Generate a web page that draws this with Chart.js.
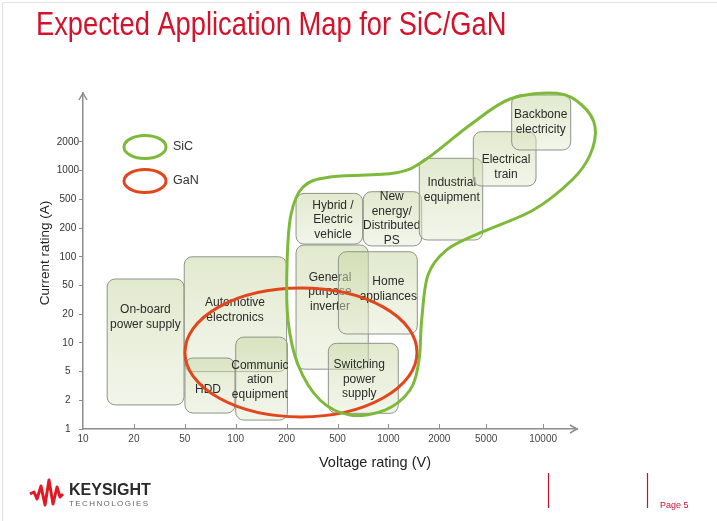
<!DOCTYPE html>
<html>
<head>
<meta charset="utf-8">
<script src="https://cdn.jsdelivr.net/npm/chart.js@4.4.1/dist/chart.umd.min.js"></script>
<style>
html, body { margin: 0; padding: 0; background: #fff; }
#wrap { position: relative; width: 717px; height: 521px; }
</style>
</head>
<body>
<div id="wrap"><canvas id="content" width="717" height="521"></canvas></div>
<script>
// axis ticks as printed on the slide (1-2-5 steps, evenly spaced; 5000/10000 sit a bit off)
var voltTicks = [10, 20, 50, 100, 200, 500, 1000, 2000, 5000, 10000];
var voltTickPos = [0, 1, 2, 3, 4, 5, 6, 7, 7.92, 9.04];
var currTicks = [1, 2, 5, 10, 20, 50, 100, 200, 500, 1000, 2000];
var currTickPos = [0, 1, 2, 3, 4, 5, 6, 7, 8, 9, 10];

// application areas: voltage range (V) and current range (A)
var apps = ["On-board\npower supply", "Automotive\nelectronics", "HDD", "Communic\nation\nequipment",
            "Hybrid /\nElectric\nvehicle", "New\nenergy/\nDistributed\nPS", "General\npurpose\ninverter",
            "Home\nappliances", "Switching\npower\nsupply", "Industrial\nequipment", "Electrical\ntrain",
            "Backbone\nelectricity"];
var voltLow  = [13.9, 49.5, 50.1, 100, 237, 710, 237, 506, 424, 1523, 3890, 6820];
var voltHigh = [49.3, 200, 99, 203, 704, 1573, 760, 1482, 1144, 4677, 9170, 13980];
var currLow  = [1.79, 5, 1.47, 1.24, 136, 130, 5.3, 12.4, 1.46, 150, 691, 1648];
var currHigh = [58.5, 100, 6.94, 11.5, 578, 602, 133, 113, 9.9, 1349, 2565, 6224];
var labelVolt = [24.6, 99, 68.6, 139, 461, 1046, 437, 999, 672, 2550, 6365, 9707];
var labelCurr = [18.7, 22.9, 2.78, 3.82, 259, 272, 40.6, 44.7, 3.87, 628, 1094, 3242];

// GaN region (ellipse bounds)
var ganVolt = [50.1, 1476];
var ganCurr = [1.34, 46.2];

// SiC region outline
var sicVolt = [11790, 15990, 18790, 17680, 14200, 8875, 4437, 2311, 1715, 1573, 1517, 1342, 955, 593,
               365, 246, 205, 201.5, 216, 269, 437, 1094, 1646, 3646, 6684];
var sicCurr = [6485, 4887, 2894, 1461, 799, 357, 178, 118, 64.4, 17.4, 6.62, 2.78, 1.58, 1.40,
               2.02, 5.86, 17.4, 82, 304, 675, 859, 946, 1295, 3014, 5649];

function toPos(v, ticks, pos) {
    var i = 0;
    while (i < ticks.length - 2 && v > ticks[i + 1]) i++;
    var t = Math.log(v / ticks[i]) / Math.log(ticks[i + 1] / ticks[i]);
    return pos[i] + t * (pos[i + 1] - pos[i]);
}

var axisColor = "#8c8c8c";

var slidePlugin = {
    id: "slide",
    beforeDraw: function (chart) {
        var ctx = chart.ctx;
        ctx.save();
        ctx.fillStyle = "#fff";
        ctx.fillRect(0, 0, chart.width, chart.height);
        ctx.restore();
    },
    afterDraw: function (chart) {
        var ctx = chart.ctx;
        var xs = chart.scales.x, ys = chart.scales.y;
        var area = chart.chartArea;
        function px(v) { return xs.getPixelForValue(toPos(v, voltTicks, voltTickPos)); }
        function py(a) { return ys.getPixelForValue(toPos(a, currTicks, currTickPos)); }

        ctx.save();

        // slide frame
        ctx.strokeStyle = "#e2e2e2";
        ctx.lineWidth = 1;
        ctx.beginPath();
        ctx.moveTo(2.5, chart.height); ctx.lineTo(2.5, 2.5); ctx.lineTo(chart.width, 2.5);
        ctx.stroke();

        // title
        ctx.save();
        ctx.translate(36, 35);
        ctx.scale(0.84, 1);
        ctx.fillStyle = "#d3122b";
        ctx.font = "32.5px 'Liberation Sans', Arial, sans-serif";
        ctx.textBaseline = "alphabetic";
        ctx.fillText("Expected Application Map for SiC/GaN", 0, 0);
        ctx.restore();

        // axis arrows and inner x ticks
        ctx.strokeStyle = axisColor;
        ctx.lineWidth = 1.5;
        ctx.beginPath();
        ctx.moveTo(area.left - 4, area.top + 7); ctx.lineTo(area.left, area.top); ctx.lineTo(area.left + 4, area.top + 7);
        ctx.moveTo(area.right - 7, area.bottom - 4); ctx.lineTo(area.right, area.bottom); ctx.lineTo(area.right - 7, area.bottom + 4);
        ctx.stroke();
        ctx.lineWidth = 1;
        ctx.beginPath();
        voltTickPos.slice(1).forEach(function (p) {
            var x = Math.round(xs.getPixelForValue(p)) + 0.5;
            ctx.moveTo(x, area.bottom); ctx.lineTo(x, area.bottom - 5);
        });
        ctx.stroke();

        // application boxes
        apps.forEach(function (name, i) {
            var x0 = px(voltLow[i]), x1 = px(voltHigh[i]);
            var y0 = py(currHigh[i]), y1 = py(currLow[i]);
            var g = ctx.createLinearGradient(0, y0, 0, y1);
            g.addColorStop(0, "rgba(198,214,160,0.52)");
            g.addColorStop(1, "rgba(226,233,208,0.45)");
            ctx.beginPath();
            ctx.roundRect(x0, y0, x1 - x0, y1 - y0, 8);
            ctx.fillStyle = g;
            ctx.fill();
            ctx.strokeStyle = "#8f9489";
            ctx.lineWidth = 1;
            ctx.stroke();

            var lines = name.split("\n");
            var cx = px(labelVolt[i]), cy = py(labelCurr[i]);
            ctx.fillStyle = "#2b2b2b";
            ctx.font = "12px 'Liberation Sans', Arial, sans-serif";
            ctx.textAlign = "center";
            ctx.textBaseline = "middle";
            lines.forEach(function (ln, k) {
                ctx.fillText(ln, cx, cy + (k - (lines.length - 1) / 2) * 14.5);
            });
        });

        // GaN ellipse
        var gx0 = px(ganVolt[0]), gx1 = px(ganVolt[1]);
        var gy0 = py(ganCurr[1]), gy1 = py(ganCurr[0]);
        ctx.beginPath();
        ctx.ellipse((gx0 + gx1) / 2, (gy0 + gy1) / 2, (gx1 - gx0) / 2, (gy1 - gy0) / 2, 0, 0, Math.PI * 2);
        ctx.strokeStyle = "#e2461c";
        ctx.lineWidth = 3;
        ctx.stroke();

        // SiC outline, closed smooth curve through the points
        var pts = sicVolt.map(function (v, i) { return [px(v), py(sicCurr[i])]; });
        var n = pts.length;
        ctx.beginPath();
        ctx.moveTo(pts[0][0], pts[0][1]);
        for (var i = 0; i < n; i++) {
            var p0 = pts[(i - 1 + n) % n], p1 = pts[i], p2 = pts[(i + 1) % n], p3 = pts[(i + 2) % n];
            ctx.bezierCurveTo(p1[0] + (p2[0] - p0[0]) / 6, p1[1] + (p2[1] - p0[1]) / 6,
                              p2[0] - (p3[0] - p1[0]) / 6, p2[1] - (p3[1] - p1[1]) / 6,
                              p2[0], p2[1]);
        }
        ctx.closePath();
        ctx.strokeStyle = "#7dba3a";
        ctx.lineWidth = 3;
        ctx.stroke();

        // legend
        [["SiC", "#7dba3a"], ["GaN", "#e2461c"]].forEach(function (it, k) {
            var ly = area.top + 54 + k * 34;
            ctx.beginPath();
            ctx.ellipse(area.left + 62, ly, 21, 11.5, 0, 0, Math.PI * 2);
            ctx.strokeStyle = it[1];
            ctx.lineWidth = 3;
            ctx.stroke();
            ctx.fillStyle = "#333";
            ctx.font = "12.5px 'Liberation Sans', Arial, sans-serif";
            ctx.textAlign = "left";
            ctx.textBaseline = "middle";
            ctx.fillText(it[0], area.left + 90, ly);
        });

        // axis titles
        ctx.fillStyle = "#222";
        ctx.font = "13.5px 'Liberation Sans', Arial, sans-serif";
        ctx.textAlign = "center";
        ctx.textBaseline = "middle";
        ctx.save();
        ctx.translate(45, 253);
        ctx.rotate(-Math.PI / 2);
        ctx.fillText("Current rating (A)", 0, 0);
        ctx.restore();
        ctx.font = "14.5px 'Liberation Sans', Arial, sans-serif";
        ctx.fillText("Voltage rating (V)", 375, 463);

        // footer: logo, divider lines, page number
        ctx.strokeStyle = "#e01a22";
        ctx.lineWidth = 3;
        ctx.lineJoin = "round";
        ctx.beginPath();
        [[30, 494], [34, 492], [37, 499], [41, 486], [45, 505], [49, 480], [53, 504], [57, 487], [60, 497], [63, 494]]
            .forEach(function (p, k) { if (k === 0) ctx.moveTo(p[0], p[1]); else ctx.lineTo(p[0], p[1]); });
        ctx.stroke();
        ctx.fillStyle = "#2a2a2a";
        ctx.font = "bold 16px 'Liberation Sans', Arial, sans-serif";
        ctx.textAlign = "left";
        ctx.textBaseline = "alphabetic";
        ctx.fillText("KEYSIGHT", 69, 495);
        ctx.fillStyle = "#666";
        ctx.font = "8px 'Liberation Sans', Arial, sans-serif";
        ctx.letterSpacing = "1.4px";
        ctx.fillText("TECHNOLOGIES", 69, 506);
        ctx.letterSpacing = "0px";

        ctx.strokeStyle = "#c8102e";
        ctx.lineWidth = 1.2;
        ctx.beginPath();
        ctx.moveTo(548.5, 473); ctx.lineTo(548.5, 508);
        ctx.moveTo(647.5, 473); ctx.lineTo(647.5, 508);
        ctx.stroke();
        ctx.fillStyle = "#c8102e";
        ctx.font = "9px 'Liberation Sans', Arial, sans-serif";
        ctx.fillText("Page 5", 660, 508);

        ctx.restore();
    }
};

var ctx = document.getElementById("content").getContext("2d");
new Chart(ctx, {
    type: "scatter",
    data: { datasets: [] },
    options: {
        responsive: false,
        animation: false,
        events: [],
        layout: { padding: { top: 93, right: 140, left: 0, bottom: 0 } },
        plugins: { legend: { display: false }, tooltip: { enabled: false } },
        scales: {
            x: {
                type: "linear", min: 0, max: 9.705,
                afterFit: function (s) { s.height = 92; },
                afterBuildTicks: function (s) { s.ticks = voltTickPos.map(function (p) { return { value: p }; }); },
                ticks: {
                    callback: function (v, i) { return String(voltTicks[i]); },
                    padding: 4, maxRotation: 0, autoSkip: false,
                    color: "#444", font: { family: "'Liberation Sans', Arial, sans-serif", size: 10 }
                },
                grid: { display: false, drawTicks: false },
                border: { display: true, color: axisColor, width: 1.5 }
            },
            y: {
                type: "linear", min: 0, max: 11.707,
                afterFit: function (s) { s.width = 83; },
                afterBuildTicks: function (s) { s.ticks = currTickPos.map(function (p) { return { value: p }; }); },
                ticks: {
                    callback: function (v, i) { return String(currTicks[i]); },
                    padding: 0, crossAlign: "center", autoSkip: false,
                    color: "#333", font: { family: "'Liberation Sans', Arial, sans-serif", size: 10 }
                },
                grid: { display: true, drawOnChartArea: false, tickLength: 4, color: axisColor },
                border: { display: true, color: axisColor, width: 1.5 }
            }
        }
    },
    plugins: [slidePlugin]
});
</script>
</body>
</html>
